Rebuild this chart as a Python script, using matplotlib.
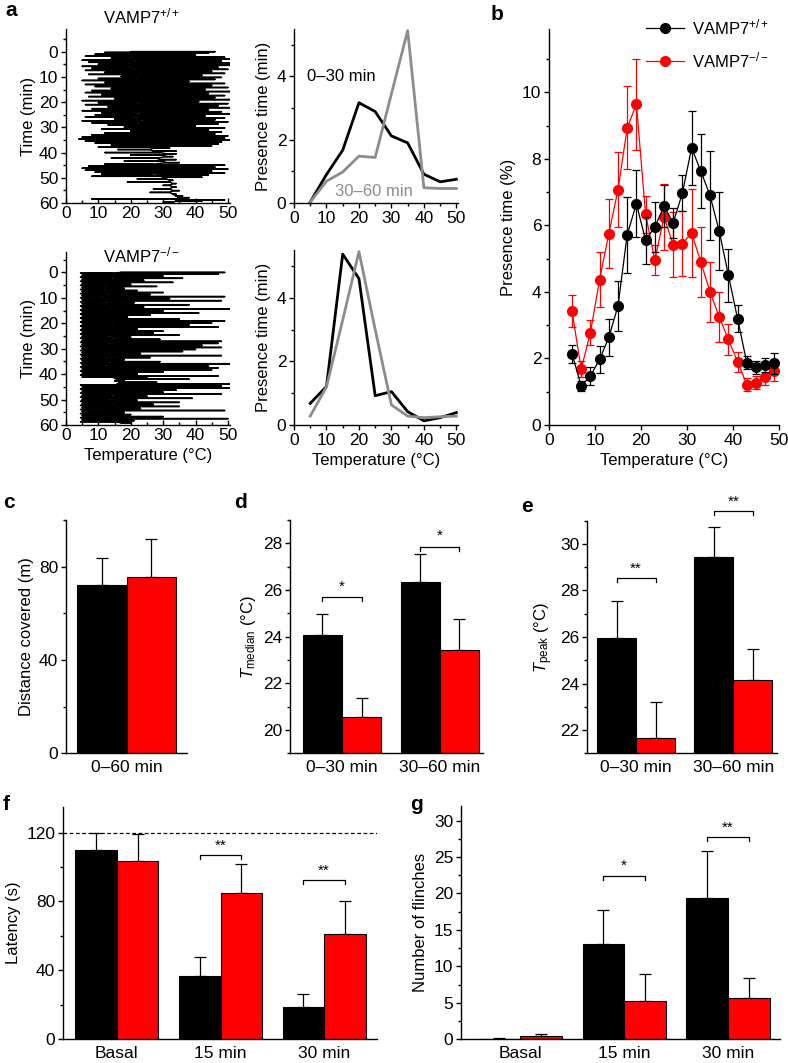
import numpy as np
import matplotlib
matplotlib.use('Agg')
import matplotlib.pyplot as plt
from matplotlib.ticker import MultipleLocator

plt.rcParams['font.family'] = ['Liberation Sans', 'DejaVu Sans']
plt.rcParams['mathtext.fontset'] = 'custom'
plt.rcParams['mathtext.rm'] = 'Liberation Sans'
plt.rcParams['mathtext.it'] = 'Liberation Sans:italic'
plt.rcParams['font.size'] = 12
plt.rcParams['axes.linewidth'] = 1.0

RED = '#ff0000'
GRAY = '#8c8c8c'
TICK_FS = 12.5

# ---- panel a: raw traces (time of each excursion, resting temp, far end of excursion)
wt_t = [0.0, 0.3, 0.6, 1.0, 1.4, 1.8, 2.2, 2.6, 3.0, 3.4, 3.8, 4.2, 4.6, 5.0, 5.4, 5.8, 6.2, 6.6, 7.0, 7.4,
        7.8, 8.2, 8.6, 9.0, 9.4, 9.8, 10.2, 10.6, 11.0, 11.4, 11.8, 12.2, 12.6, 13.0, 13.4, 13.8, 14.2, 14.6,
        15.0, 15.4, 15.8, 16.2, 16.6, 17.0, 17.4, 17.8, 18.2, 18.6, 19.0, 19.4, 19.8, 20.2, 20.6, 21.0, 21.4,
        21.8, 22.2, 22.6, 23.0, 23.4, 23.8, 24.2, 24.6, 25.0, 25.4, 25.8, 26.2, 26.6, 27.0, 27.4, 27.8, 28.2,
        28.6, 29.0, 29.4, 29.8, 30.2, 30.6, 31.0, 31.4, 31.8, 32.2, 32.6, 33.0, 33.4, 33.8, 34.2, 34.6, 35.0,
        35.4, 35.8, 36.2, 36.6, 37.0, 37.4, 37.8, 38.2, 38.8, 39.4, 40.0, 40.5, 41.0, 41.6, 42.2, 42.8, 43.4,
        44.0, 44.6, 45.0, 45.4, 45.8, 46.2, 46.6, 47.0, 47.4, 47.8, 48.2, 48.6, 49.0, 49.4, 49.8, 50.4, 51.0,
        51.6, 52.3, 53.0, 53.7, 54.4, 55.1, 55.8, 56.5, 57.2, 57.9, 58.4, 58.8, 59.2, 59.7]
wt_base = [20, 20, 21, 19, 20, 22, 21, 20, 19, 20, 22, 21, 20, 19, 18, 18, 20, 19, 21, 20,
           22, 21, 20, 21, 23, 22, 21, 20, 22, 22, 23, 22, 21, 20, 22, 21, 22, 24,
           23, 22, 21, 20, 21, 22, 23, 22, 21, 20, 22, 21, 20, 22, 24, 23, 22,
           21, 22, 24, 23, 22, 21, 22, 24, 23, 22, 21, 23, 25, 24, 22, 21, 22,
           24, 23, 22, 24, 25, 24, 23, 22, 24, 25, 24, 23, 22, 23, 22, 21, 22,
           23, 22, 24, 25, 26, 27, 26, 27, 26, 27, 29, 31, 30, 31, 28, 29, 30,
           31, 27, 26, 24, 25, 23, 24, 25, 26, 27, 26, 25, 28, 29, 30, 31, 32,
           32, 33, 32, 33, 32, 33, 32, 33, 34, 35, 34, 35, 34, 33]
wt_peak = [46, 12, 44, 9, 40, 6, 49, 14, 51, 5, 48, 7, 51, 10, 52, 5, 47, 8, 50, 6,
           45, 12, 49, 7, 42, 17, 48, 10, 46, 5, 38, 12, 49, 6, 45, 9, 50, 14,
           43, 8, 51, 6, 44, 11, 49, 7, 46, 15, 52, 5, 41, 10, 50, 6, 47,
           13, 51, 8, 44, 5, 48, 11, 52, 9, 43, 6, 49, 15, 46, 5, 50, 8,
           47, 13, 40, 18, 49, 11, 44, 20, 48, 12, 46, 8, 50, 5, 49, 4, 51,
           6, 48, 9, 47, 14, 45, 10, 32, 16, 34, 12, 34, 20, 33, 14, 34, 18,
           35, 12, 49, 7, 46, 5, 50, 6, 45, 9, 49, 11, 44, 8, 42, 22, 33,
           19, 34, 30, 34, 27, 35, 26, 34, 36, 38, 8, 49, 42, 30]

ko_t = [0.0, 0.3, 0.7, 1.1, 1.5, 1.9, 2.3, 2.7, 3.1, 3.5, 3.9, 4.3, 4.7, 5.1, 5.5, 5.9, 6.3, 6.7, 7.1, 7.5,
        7.9, 8.3, 8.7, 9.1, 9.5, 9.9, 10.3, 10.7, 11.1, 11.5, 11.9, 12.3, 12.7, 13.1, 13.5, 13.9, 14.3, 14.7,
        15.1, 15.5, 15.9, 16.3, 16.7, 17.1, 17.5, 17.9, 18.3, 18.7, 19.1, 19.5, 19.9, 20.3, 20.7, 21.1, 21.5,
        21.9, 22.3, 22.7, 23.1, 23.5, 23.9, 24.3, 24.7, 25.1, 25.5, 25.9, 26.3, 26.7, 27.1, 27.5, 27.9, 28.3,
        28.7, 29.1, 29.5, 29.9, 30.3, 30.7, 31.1, 31.5, 31.9, 32.3, 32.7, 33.1, 33.5, 33.9, 34.3, 34.7, 35.1,
        35.5, 35.9, 36.3, 36.7, 37.1, 37.5, 37.9, 38.3, 38.7, 39.1, 39.5, 39.9, 40.3, 40.7, 41.1, 41.5, 42.0,
        42.6, 43.2, 43.8, 44.3, 44.7, 45.1, 45.5, 45.9, 46.3, 46.7, 47.1, 47.5, 47.9, 48.3, 48.7, 49.1, 49.5,
        49.9, 50.3, 50.7, 51.1, 51.5, 51.9, 52.3, 52.7, 53.1, 53.5, 53.9, 54.3, 54.7, 55.1, 55.5, 55.9, 56.3,
        56.7, 57.1, 57.5, 57.9, 58.3, 58.7, 59.1]
ko_base = [17, 14, 16, 15, 17, 15, 16, 14, 15, 13, 15, 14, 13, 12, 14, 12, 11, 12, 14, 12,
           13, 11, 12, 11, 13, 12, 14, 12, 13, 12, 14, 13, 15, 13, 14, 12, 13, 15,
           16, 14, 15, 14, 13, 12, 14, 13, 14, 12, 13, 14, 16, 14, 13, 15, 14,
           13, 14, 13, 14, 12, 13, 14, 13, 12, 14, 13, 15, 14, 13, 14, 15, 13,
           14, 15, 13, 12, 14, 13, 14, 13, 15, 14, 13, 12, 14, 13, 12, 13, 14,
           12, 13, 12, 14, 15, 13, 12, 14, 13, 12, 13, 12, 11, 13, 14, 15, 16,
           15, 17, 16, 15, 16, 15, 16, 14, 15, 14, 16, 15, 14, 13, 15, 14, 13,
           12, 14, 13, 14, 13, 15, 14, 13, 14, 15, 14, 13, 12, 14, 13, 14, 13,
           15, 14, 15, 14, 16, 15, 17]
ko_peak = [49, 4.5, 47, 5, 30, 4.5, 36, 5, 24, 4.5, 33, 5, 20, 4.5, 28, 5, 18, 4.5, 22, 5,
           30, 4.5, 26, 5, 49, 4.5, 32, 5, 48, 4.5, 21, 5, 38, 4.5, 24, 5, 51, 4.5,
           30, 5, 41, 4.5, 26, 5, 19, 4.5, 35, 5, 49, 4.5, 45, 5, 38, 4.5, 47,
           5, 22, 4.5, 30, 5, 27, 4.5, 35, 5, 20, 4.5, 29, 5, 48, 4.5, 47, 5,
           42, 4.5, 48, 5, 40, 4.5, 36, 5, 23, 4.5, 48, 5, 26, 4.5, 18, 5, 29,
           4.5, 51, 5, 44, 4.5, 47, 5, 45, 4.5, 30, 5, 22, 4.5, 47, 5, 25, 38,
           18, 28, 51, 4.5, 48, 5, 52, 4.5, 34, 5, 30, 4.5, 48, 5, 25, 4.5, 39,
           5, 22, 4.5, 35, 5, 27, 4.5, 35, 5, 23, 4.5, 49, 5, 18, 4.5, 20, 5,
           30, 4.5, 50, 5, 21, 4.5, 20]

# ---- panel a: presence time histograms (min)
hist_temp = [5, 10, 15, 20, 25, 30, 35, 40, 45, 50]
wt_early = [0.03, 0.9, 1.67, 3.17, 2.89, 2.12, 1.9, 0.91, 0.67, 0.75]
wt_late = [0.03, 0.69, 0.98, 1.48, 1.44, 3.45, 5.45, 0.48, 0.46, 0.46]
ko_early = [0.68, 1.21, 5.37, 4.6, 0.92, 1.05, 0.42, 0.13, 0.23, 0.39]
ko_late = [0.28, 1.2, 3.3, 5.45, 3.0, 0.63, 0.28, 0.23, 0.26, 0.28]

# ---- panel b: presence time (%)
b_temp = [5, 7, 9, 11, 13, 15, 17, 19, 21, 23, 25, 27, 29, 31, 33, 35, 37, 39, 41, 43, 45, 47, 49]
b_wt = [2.14, 1.17, 1.47, 1.97, 2.63, 3.58, 5.72, 6.65, 5.55, 5.95, 6.57, 6.08, 6.97, 8.33, 7.63, 6.9,
        5.83, 4.5, 3.19, 1.87, 1.73, 1.8, 1.85]
b_wt_err = [0.27, 0.15, 0.28, 0.41, 0.57, 0.75, 1.14, 1.0, 0.7, 0.75, 0.63, 0.45, 0.53, 1.12, 1.1, 1.33,
            1.16, 0.8, 0.41, 0.2, 0.2, 0.22, 0.32]
b_ko = [3.43, 1.68, 2.77, 4.37, 5.75, 7.07, 8.93, 9.64, 6.33, 4.95, 6.25, 5.42, 5.45, 5.77, 4.9, 4.0,
        3.25, 2.57, 1.9, 1.21, 1.27, 1.45, 1.63]
b_ko_err = [0.49, 0.25, 0.38, 0.83, 1.03, 1.13, 1.25, 1.37, 0.55, 0.45, 0.98, 0.98, 0.97, 1.33, 1.05, 0.9,
            0.75, 0.48, 0.3, 0.2, 0.2, 0.25, 0.32]

# ---- panels c-g: bar charts (wild type, knockout)
c_groups = ['0\u201360 min']
c_wt, c_wt_err = [72.1], [11.5]
c_ko, c_ko_err = [75.7], [16.0]

de_groups = ['0\u201330 min', '30\u201360 min']
d_wt, d_wt_err = [24.07, 26.36], [0.88, 1.17]
d_ko, d_ko_err = [20.57, 23.43], [0.78, 1.31]
d_sig = ['*', '*']
e_wt, e_wt_err = [25.96, 29.46], [1.6, 1.28]
e_ko, e_ko_err = [21.64, 24.14], [1.55, 1.36]
e_sig = ['**', '**']

fg_groups = ['Basal', '15 min', '30 min']
f_wt, f_wt_err = [109.7, 36.7, 18.9], [10.3, 11.2, 7.4]
f_ko, f_ko_err = [103.4, 85.2, 61.0], [16.0, 16.8, 19.4]
f_sig = [None, '**', '**']
f_cutoff = 120
g_wt, g_wt_err = [0.1, 13.13, 19.37], [0.05, 4.56, 6.4]
g_ko, g_ko_err = [0.45, 5.28, 5.7], [0.3, 3.7, 2.64]
g_sig = [None, '*', '**']

W, H = 788, 1063
fig = plt.figure(figsize=(W / 100, H / 100), dpi=100)


def ax_px(l, r, t, b):
    ax = fig.add_axes([l / W, 1 - b / H, (r - l) / W, (b - t) / H])
    ax.spines['top'].set_visible(False)
    ax.spines['right'].set_visible(False)
    ax.tick_params(which='major', length=3.5, width=1.0, labelsize=TICK_FS, pad=2)
    ax.tick_params(which='minor', length=2.2, width=1.0)
    return ax


def draw_trace(ax, t, base, peak):
    xs, ys = [], []
    for ti, b, p in zip(t, base, peak):
        xs += [b, p, b]
        ys += [ti, ti, ti]
    ax.plot(xs, ys, color='k', lw=1.1)
    ax.set_xlim(0, 50.5)
    ax.xaxis.set_major_locator(MultipleLocator(10))
    ax.xaxis.set_minor_locator(MultipleLocator(5))
    ax.yaxis.set_major_locator(MultipleLocator(10))
    ax.yaxis.set_minor_locator(MultipleLocator(5))
    ax.set_ylabel('Time (min)', labelpad=2)
    ax.tick_params(axis='x', which='both', direction='in')
    return ax


def draw_hist(ax, early, late):
    ax.plot(hist_temp, early, color='k', lw=2.0)
    ax.plot(hist_temp, late, color=GRAY, lw=2.0)
    ax.set_xlim(0, 50.5)
    ax.set_ylim(0, 5.5)
    ax.xaxis.set_major_locator(MultipleLocator(10))
    ax.xaxis.set_minor_locator(MultipleLocator(5))
    ax.yaxis.set_major_locator(MultipleLocator(2))
    ax.yaxis.set_minor_locator(MultipleLocator(1))
    ax.set_ylabel('Presence time (min)', labelpad=4)


ax1 = ax_px(66, 229.5, 29, 203)
draw_trace(ax1, wt_t, wt_base, wt_peak)
ax1.set_ylim(60, -9)
ax1.text(0.46, 1.07, 'VAMP7$^{+/+}$', transform=ax1.transAxes, ha='center', va='center')

ax2 = ax_px(294, 458, 29, 203)
draw_hist(ax2, wt_early, wt_late)
ax2.text(4, 4, '0\u201330 min', ha='left', va='center')
ax2.text(12.5, 0.37, '30\u201360 min', ha='left', va='center', color=GRAY)

ax3 = ax_px(66, 229.5, 251.6, 425)
draw_trace(ax3, ko_t, ko_base, ko_peak)
ax3.set_ylim(60, -8.2)
ax3.text(0.46, 0.975, 'VAMP7$^{\u2212/\u2212}$', transform=ax3.transAxes, ha='center', va='center', zorder=5)
ax3.set_xlabel('Temperature (\u00b0C)', labelpad=4)

ax4 = ax_px(294, 458, 250, 425)
draw_hist(ax4, ko_early, ko_late)
ax4.set_xlabel('Temperature (\u00b0C)', labelpad=4)

# ---- panel b
axb = ax_px(549, 779, 29, 425)
axb.errorbar(b_temp, b_wt, yerr=b_wt_err, fmt='o-', color='k', ms=7, lw=0.9, elinewidth=0.9,
             capsize=3, capthick=0.9, label='VAMP7$^{+/+}$', zorder=3)
axb.errorbar(b_temp, b_ko, yerr=b_ko_err, fmt='o-', color=RED, ms=7, lw=0.9, elinewidth=0.9,
             capsize=3, capthick=0.9, label='VAMP7$^{\u2212/\u2212}$', zorder=2)
axb.set_xlim(0, 50)
axb.set_ylim(0, 11.9)
axb.xaxis.set_major_locator(MultipleLocator(10))
axb.yaxis.set_major_locator(MultipleLocator(2))
axb.yaxis.set_minor_locator(MultipleLocator(1))
axb.set_ylabel('Presence time (%)', labelpad=4)
axb.set_xlabel('Temperature (\u00b0C)', labelpad=4)
handles, labels = axb.get_legend_handles_labels()
handles = [h[0] for h in handles]
axb.legend(handles, labels, loc='upper left', bbox_to_anchor=(0.42, 1.03), frameon=False,
           handlelength=2.3, handletextpad=0.5, labelspacing=0.8, borderaxespad=0, borderpad=0)


def draw_bars(ax, wt, wt_err, ko, ko_err, groups, w=0.4):
    x = np.arange(len(groups))
    ax.bar(x - w / 2, wt, w, color='k', edgecolor='k', lw=0.8, zorder=2)
    ax.bar(x + w / 2, ko, w, color=RED, edgecolor='k', lw=0.8, zorder=2)
    ax.errorbar(x - w / 2, wt, yerr=[np.zeros(len(x)), wt_err], fmt='none', ecolor='k',
                elinewidth=0.9, capsize=4, capthick=0.9, zorder=1)
    ax.errorbar(x + w / 2, ko, yerr=[np.zeros(len(x)), ko_err], fmt='none', ecolor='k',
                elinewidth=0.9, capsize=4, capthick=0.9, zorder=1)
    ax.set_xticks(x)
    ax.set_xticklabels(groups)
    ax.tick_params(axis='x', length=0, pad=5)
    return x


def bracket(ax, xc, y, drop, sig, w=0.4, gap=0.0):
    ax.plot([xc - w / 2, xc - w / 2, xc + w / 2, xc + w / 2], [y - drop, y, y, y - drop],
            color='k', lw=0.9, clip_on=False)
    ax.text(xc, y + gap, sig, ha='center', va='bottom', fontsize=11, clip_on=False)


# ---- panel c
axc = ax_px(66, 187, 520, 753.3)
draw_bars(axc, c_wt, c_wt_err, c_ko, c_ko_err, c_groups, w=0.41)
axc.set_xlim(-0.5, 0.5)
axc.set_ylim(0, 100)
axc.yaxis.set_major_locator(MultipleLocator(40))
axc.yaxis.set_minor_locator(MultipleLocator(20))
axc.set_ylabel('Distance covered (m)', labelpad=4)

# ---- panel d
axd = ax_px(290, 483, 520, 753.3)
xd = draw_bars(axd, d_wt, d_wt_err, d_ko, d_ko_err, de_groups)
axd.set_xlim(-0.53, 1.44)
axd.set_ylim(19, 29)
axd.yaxis.set_major_locator(MultipleLocator(2))
axd.yaxis.set_minor_locator(MultipleLocator(1))
axd.set_ylabel('$T_{\\mathrm{median}}$ (\u00b0C)', labelpad=4)
for xi, yb, s in zip(xd, [25.7, 27.86], d_sig):
    bracket(axd, xi, yb, 0.17, s, gap=0.15)

# ---- panel e
axe = ax_px(587, 777, 520.7, 753.3)
xe = draw_bars(axe, e_wt, e_wt_err, e_ko, e_ko_err, de_groups)
axe.set_xlim(-0.505, 1.45)
axe.set_ylim(21, 31)
axe.yaxis.set_major_locator(MultipleLocator(2))
axe.yaxis.set_minor_locator(MultipleLocator(1))
axe.set_ylabel('$T_{\\mathrm{peak}}$ (\u00b0C)', labelpad=4)
for xi, yb, s in zip(xe, [28.54, 31.4], e_sig):
    bracket(axe, xi, yb, 0.17, s, gap=0.1)

# ---- panel f
axf = ax_px(63, 377, 806.7, 1039.3)
xf = draw_bars(axf, f_wt, f_wt_err, f_ko, f_ko_err, fg_groups)
axf.axhline(f_cutoff, color='k', lw=0.9, ls=(0, (3, 2)), zorder=0)
axf.set_xlim(-0.52, 2.51)
axf.set_ylim(0, 135)
axf.yaxis.set_major_locator(MultipleLocator(40))
axf.yaxis.set_minor_locator(MultipleLocator(20))
axf.set_ylabel('Latency (s)', labelpad=4)
for xi, yb, s in zip(xf, [None, 106.8, 92.4], f_sig):
    if s:
        bracket(axf, xi, yb, 2.0, s, gap=1.5)

# ---- panel g
axg = ax_px(461, 780, 806, 1039.3)
xg = draw_bars(axg, g_wt, g_wt_err, g_ko, g_ko_err, fg_groups)
axg.set_xlim(-0.57, 2.5)
axg.set_ylim(0, 32)
axg.yaxis.set_major_locator(MultipleLocator(5))
axg.yaxis.set_minor_locator(MultipleLocator(2.5))
axg.set_ylabel('Number of flinches', labelpad=4)
for xi, yb, s in zip(xg, [None, 22.4, 27.7], g_sig):
    if s:
        bracket(axg, xi, yb, 0.5, s, gap=0.4)

for letter, (px, py) in zip('abcdefg', [(11, 11), (497, 15), (9, 503), (240, 503), (527, 507),
                                        (6, 805), (417, 805)]):
    fig.text(px / W, 1 - py / H, letter, ha='center', va='center', fontsize=15, fontweight='bold')

fig.savefig('out.png', dpi=100)
